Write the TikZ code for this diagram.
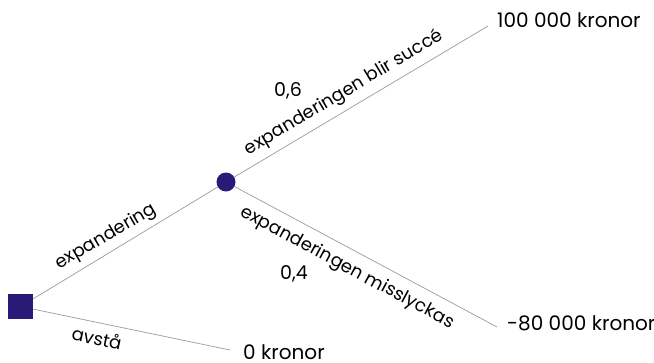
\documentclass[tikz,border=0pt]{standalone}
\usepackage{fontspec}
\setmainfont{Poppins}
\definecolor{navy}{HTML}{2A1A78}
\definecolor{edgegray}{HTML}{9A9A9A}
\begin{document}
\begin{tikzpicture}[x=1pt,y=-1pt,
  decision/.style={rectangle,fill=navy,draw=none,minimum size=25pt,inner sep=0pt},
  chance/.style={circle,fill=navy,draw=none,minimum size=19pt,inner sep=0pt},
  edge/.style={draw=edgegray,line width=0.7pt},
  lbl/.style={font=\fontsize{18}{21}\selectfont,inner sep=0pt},
  prob/.style={font=\fontsize{19}{22}\selectfont,inner sep=0pt},
  outcome/.style={font=\fontsize{20}{24}\selectfont,inner sep=0pt,anchor=west}]
\useasboundingbox (0,0) rectangle (654,362);
\node[decision] (sq) at (20.5,306.5) {};
\node[chance] (c) at (226,182) {};
\coordinate (e1) at (488,26);
\coordinate (e2) at (497,327);
\coordinate (e0) at (230,350);
\draw[edge] (sq) -- (c);
\draw[edge] (c) -- (e1);
\draw[edge] (c) -- (e2);
\draw[edge] (sq) -- (e0);
\node[outcome] (o1) at (497,20.5) {100 000 kronor};
\node[outcome] (o2) at (507,323) {-80 000 kronor};
\node[outcome] (o0) at (243,352.5) {0 kronor};
\node[lbl,rotate=30.3] (l1) at (106,237) {expandering};
\node[lbl,rotate=30.8] (l2) at (344,93) {expanderingen blir succé};
\node[lbl,rotate=-28.2] (l3) at (347,268) {expanderingen misslyckas};
\node[lbl,rotate=-12] (l4) at (97,338) {avstå};
\node[prob] (p1) at (288,91) {0,6};
\node[prob] (p2) at (294,274) {0,4};
\end{tikzpicture}
\end{document}
